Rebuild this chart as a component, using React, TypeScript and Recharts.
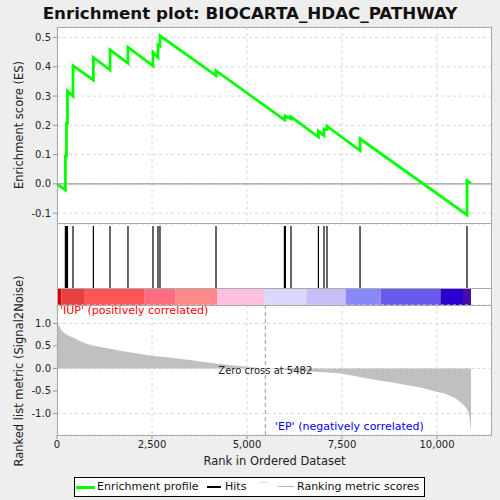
import React from "react";
import {
  LineChart,
  Line,
  AreaChart,
  Area,
  XAxis,
  YAxis,
  CartesianGrid,
  ReferenceLine,
  ReferenceArea,
} from "recharts";

// gene-set hits (rank positions) and the running ES right before / after each hit
const HITS = [220, 250, 275, 421, 957, 1395, 1868, 2526, 2658, 2710, 4184, 5984, 6010, 6158, 6879, 7026, 7105, 7974, 10789];
const ES_BEFORE = [-0.021, 0.096, 0.207, 0.3, 0.355, 0.389, 0.412, 0.403, 0.432, 0.471, 0.37, 0.219, 0.226, 0.222, 0.16, 0.165, 0.186, 0.114, -0.106];
const ES_AFTER = [0.096, 0.207, 0.317, 0.404, 0.432, 0.458, 0.467, 0.449, 0.475, 0.506, 0.387, 0.226, 0.232, 0.229, 0.18, 0.188, 0.197, 0.154, 0.011];
const ES_START = 0;
const ES_END = 0.002;
const LIST_SIZE = 10895;

// ranked list metric (Signal2Noise)
const METRIC_RANKS = [0, 40, 70, 110, 160, 220, 290, 380, 465, 600, 815, 1000, 1255, 1500, 1690, 2000, 2480, 3010, 3500, 3800, 4200, 4600, 5000, 5482, 6000, 6500, 7000, 7440, 7900, 8316, 8800, 9195, 9600, 9984, 10200, 10334, 10500, 10597, 10700, 10774, 10820, 10842, 10870, 10887, 10895];
const METRIC_VALUES = [1.04, 0.97, 0.92, 0.86, 0.81, 0.77, 0.74, 0.7, 0.67, 0.61, 0.54, 0.5, 0.46, 0.42, 0.39, 0.35, 0.28, 0.235, 0.19, 0.147, 0.11, 0.07, 0.035, 0, -0.03, -0.057, -0.085, -0.11, -0.18, -0.244, -0.31, -0.37, -0.43, -0.52, -0.56, -0.61, -0.67, -0.74, -0.81, -0.89, -0.96, -1.04, -1.15, -1.37, -1.37];
const ZERO_CROSS = 5482;

// colour bar segments
const BAND_EDGES = [0, 116, 711, 2308, 3124, 4211, 5466, 6563, 7597, 8518, 10089, 10684, 10895];
const BAND_COLORS = ["#d80000", "#e64040", "#ff5555", "#ff6d7e", "#ff8888", "#ffc0e0", "#d8d8fa", "#c6bef4", "#8888f8", "#6a5aec", "#2a00d0", "#4a0aa8"];

const X_TICKS = [0, 2500, 5000, 7500, 10000];
const ES_TICKS = [-0.1, 0, 0.1, 0.2, 0.3, 0.4, 0.5];
const METRIC_TICKS = [-1, -0.5, 0, 0.5, 1];

const X_DOMAIN: [number, number] = [0, 11447];
const FONT = "'DejaVu Sans', sans-serif";
const tickStyle = { fontSize: 10, fill: "#222", fontFamily: FONT };

const esData = [{ rank: 0, es: ES_START }];
HITS.forEach((h, i) => {
  esData.push({ rank: h, es: ES_BEFORE[i] });
  esData.push({ rank: h, es: ES_AFTER[i] });
});
esData.push({ rank: LIST_SIZE, es: ES_END });

const metricData = METRIC_RANKS.map((r, i) => ({ rank: r, metric: METRIC_VALUES[i] }));
const hitData = HITS.map((h) => ({ rank: h, v: 0.5 }));
const bands = BAND_COLORS.map((c, i) => ({ x1: BAND_EDGES[i], x2: BAND_EDGES[i + 1], color: c }));

const abs = (style: React.CSSProperties): React.CSSProperties => ({ position: "absolute", ...style });

export default function App() {
  return (
    <div style={abs({ left: 0, top: 0, width: 500, height: 500, background: "#eeeeee", fontFamily: FONT, overflow: "hidden" })}>
      {/* plot backgrounds */}
      <div style={abs({ left: 57, top: 27, width: 435, height: 408, background: "#fff" })} />

      {/* title */}
      <div style={abs({ left: 0, top: 3, width: 500, textAlign: "center", fontSize: 16.7, fontWeight: "bold", color: "#111" })}>
        Enrichment plot: BIOCARTA_HDAC_PATHWAY
      </div>

      {/* running enrichment score */}
      <div style={abs({ left: 0, top: 0 })}>
        <LineChart width={500} height={500} data={esData} margin={{ top: 27, right: 8, left: 0, bottom: 276 }}>
          <CartesianGrid stroke="#d6d6d6" strokeDasharray="3 3" />
          <XAxis dataKey="rank" type="number" domain={X_DOMAIN} ticks={X_TICKS} hide />
          <YAxis
            type="number"
            domain={[-0.137, 0.536]}
            ticks={ES_TICKS}
            width={57}
            tick={tickStyle}
            tickFormatter={(v: number) => v.toFixed(1)}
            tickSize={4}
            tickLine={{ stroke: "#999" }}
            axisLine={false}
          />
          <ReferenceLine y={0} stroke="#888" strokeWidth={1} />
          <Line dataKey="es" type="linear" stroke="#00ff00" strokeWidth={2.8} dot={false} isAnimationActive={false} />
        </LineChart>
      </div>

      {/* hits */}
      <div style={abs({ left: 0, top: 0 })}>
        <LineChart width={500} height={500} data={hitData} margin={{ top: 226, right: 8, left: 57, bottom: 212 }}>
          <XAxis dataKey="rank" type="number" domain={X_DOMAIN} hide />
          <YAxis type="number" domain={[0, 1]} hide />
          {HITS.map((h) => (
            <ReferenceLine key={h} x={h} stroke="#000" strokeWidth={1.2} />
          ))}
          <Line dataKey="v" stroke="none" dot={false} isAnimationActive={false} />
        </LineChart>
      </div>

      {/* colour bar */}
      <div style={abs({ left: 0, top: 0 })}>
        <LineChart width={500} height={500} data={hitData} margin={{ top: 288, right: 8, left: 57, bottom: 195 }}>
          <XAxis dataKey="rank" type="number" domain={X_DOMAIN} hide />
          <YAxis type="number" domain={[0, 1]} hide />
          {bands.map((b) => (
            <ReferenceArea key={b.x1} x1={b.x1} x2={b.x2} y1={0} y2={1} fill={b.color} fillOpacity={1} stroke="none" />
          ))}
          <Line dataKey="v" stroke="none" dot={false} isAnimationActive={false} />
        </LineChart>
      </div>

      {/* ranked list metric */}
      <div style={abs({ left: 0, top: 0 })}>
        <AreaChart width={500} height={500} data={metricData} margin={{ top: 305, right: 8, left: 0, bottom: 45 }}>
          <CartesianGrid stroke="#d6d6d6" strokeDasharray="3 3" />
          <XAxis
            dataKey="rank"
            type="number"
            domain={X_DOMAIN}
            ticks={X_TICKS}
            height={20}
            tick={tickStyle}
            tickFormatter={(v: number) => v.toLocaleString("en-US")}
            tickSize={4}
            tickLine={{ stroke: "#999" }}
            axisLine={false}
          />
          <YAxis
            type="number"
            domain={[-1.48, 1.41]}
            ticks={METRIC_TICKS}
            width={57}
            tick={tickStyle}
            tickFormatter={(v: number) => v.toFixed(1)}
            tickSize={4}
            tickLine={{ stroke: "#999" }}
            axisLine={false}
          />
          <Area dataKey="metric" type="linear" baseValue={0} stroke="none" fill="#c0c0c0" fillOpacity={1} isAnimationActive={false} />
          <ReferenceLine
            x={ZERO_CROSS}
            stroke="#999"
            strokeDasharray="4 3"
            label={{ value: `Zero cross at ${ZERO_CROSS}`, position: "center", fontSize: 10, fill: "#222", fontFamily: FONT }}
          />
        </AreaChart>
      </div>

      {/* frames */}
      <div style={abs({ left: 57, top: 27, width: 435, height: 197, border: "1px solid #aaa", boxSizing: "border-box" })} />
      <div style={abs({ left: 57, top: 223, width: 435, height: 213, border: "1px solid #aaa", boxSizing: "border-box" })} />
      <div style={abs({ left: 57, top: 288, width: 435, height: 18, borderTop: "1px solid #aaa", borderBottom: "1px solid #aaa", boxSizing: "border-box" })} />

      {/* annotations */}
      <div style={abs({ left: 60, top: 304, fontSize: 11, color: "#ff0000", whiteSpace: "nowrap" })}>'IUP' (positively correlated)</div>
      <div style={abs({ left: 275, top: 420, fontSize: 11, color: "#0000ff", whiteSpace: "nowrap" })}>'EP' (negatively correlated)</div>

      {/* axis titles */}
      <div style={abs({ left: 19, top: 125, fontSize: 11.5, color: "#222", whiteSpace: "nowrap", transform: "translate(-50%, -50%) rotate(-90deg)" })}>
        Enrichment score (ES)
      </div>
      <div style={abs({ left: 19, top: 371, fontSize: 11.5, color: "#222", whiteSpace: "nowrap", transform: "translate(-50%, -50%) rotate(-90deg)" })}>
        Ranked list metric (Signal2Noise)
      </div>
      <div style={abs({ left: 57, top: 454, width: 435, textAlign: "center", fontSize: 11.5, color: "#222" })}>Rank in Ordered Dataset</div>

      {/* legend */}
      <div style={abs({ left: 74, top: 477, width: 351, height: 20, border: "1px solid #000", background: "#fff", boxSizing: "border-box", fontSize: 11, color: "#111" })}>
        <div style={abs({ left: 1, top: 8, width: 19, height: 2.5, background: "#00ff00" })} />
        <div style={abs({ left: 22, top: 2, whiteSpace: "nowrap" })}>Enrichment profile</div>
        <div style={abs({ left: 132, top: 8, width: 14, height: 1.5, background: "#000" })} />
        <div style={abs({ left: 150, top: 2, whiteSpace: "nowrap" })}>Hits</div>
        <div style={abs({ left: 184, top: 4, width: 9, height: 1, background: "#ddd" })} />
        <div style={abs({ left: 203, top: 8, width: 16, height: 1, background: "#bbb" })} />
        <div style={abs({ left: 222, top: 2, whiteSpace: "nowrap" })}>Ranking metric scores</div>
      </div>
    </div>
  );
}
